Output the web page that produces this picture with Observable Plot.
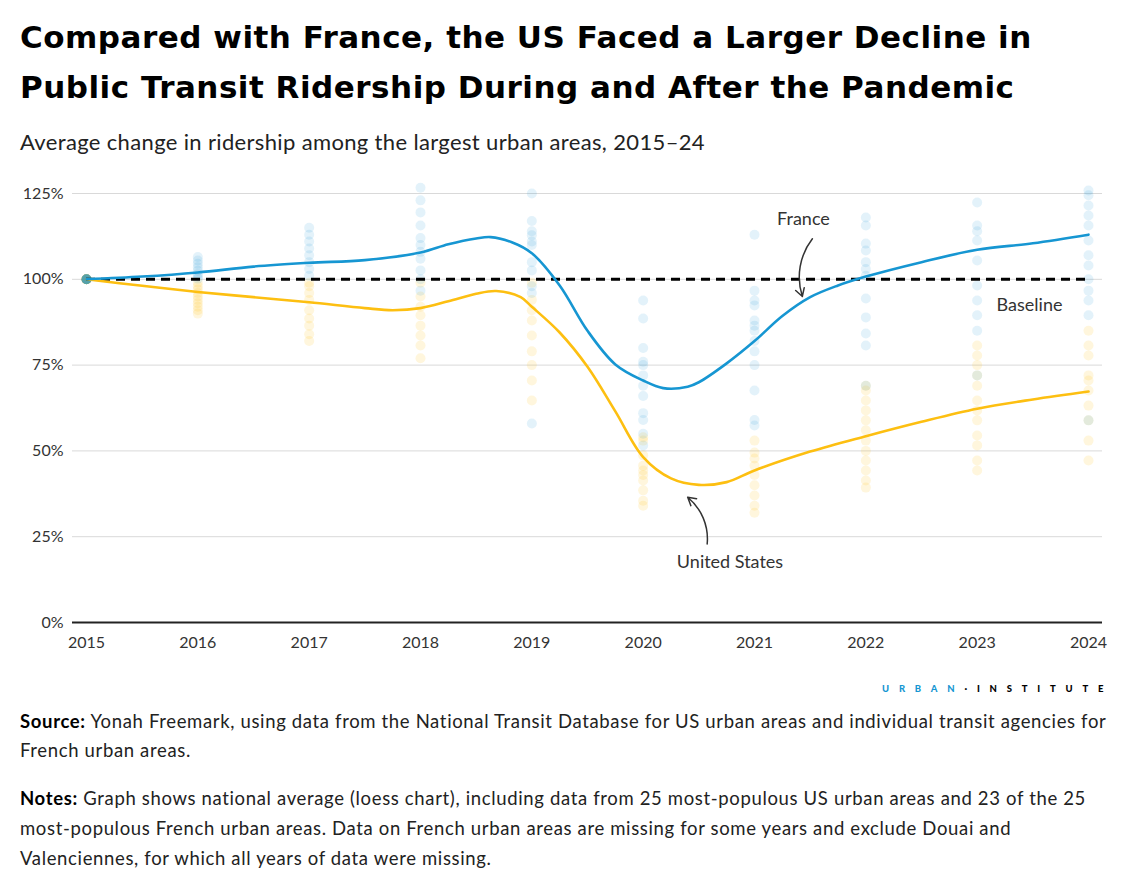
<!DOCTYPE html>
<html>
<head>
<meta charset="utf-8">
<script src="https://cdn.jsdelivr.net/npm/d3@7"></script>
<script src="https://cdn.jsdelivr.net/npm/@observablehq/plot@0.6"></script>
<style>
  html, body { margin: 0; padding: 0; background: #fff; }
  body { width: 1125px; height: 886px; position: relative; font-family: Lato, "Open Sans", sans-serif; color: #000; overflow: hidden; }
  .abs { position: absolute; left: 20px; white-space: nowrap; }
  #title { top: 12px; font-family: "DejaVu Sans", sans-serif; font-size: 31px; font-weight: 700; line-height: 50px; letter-spacing: 0.5px; color: #000; }
  #subtitle { top: 128px; font-size: 22px; letter-spacing: 0.35px; color: #222; }
  #chart { top: 170px; left: 0; }
  #logo { top: 683px; left: 882px; font-size: 9.5px; font-weight: 900; letter-spacing: 9.8px; color: #000; }
  #logo .u { color: #1696d2; }
  .note { font-size: 18.5px; line-height: 29px; letter-spacing: 0.65px; color: #222; }
  .note b { font-weight: 700; color: #000; }
  #source { top: 707px; }
  #notes { top: 783px; line-height: 30px; }
</style>
</head>
<body>
<div id="title" class="abs">Compared with France, the US Faced a Larger Decline in<br>Public Transit Ridership During and After the Pandemic</div>
<div id="subtitle" class="abs">Average change in ridership among the largest urban areas, 2015–24</div>
<div id="chart" class="abs"></div>
<div id="logo" class="abs"><span class="u">URBAN</span>·INSTITUTE</div>
<div id="source" class="abs note"><b>Source:</b> Yonah Freemark, using data from the National Transit Database for US urban areas and individual transit agencies for<br>French urban areas.</div>
<div id="notes" class="abs note"><b>Notes:</b> Graph shows national average (loess chart), including data from 25 most-populous US urban areas and 23 of the 25<br>most-populous French urban areas. Data on French urban areas are missing for some years and exclude Douai and<br>Valenciennes, for which all years of data were missing.</div>
<script>
// ---- Data ----
const years = [2015, 2016, 2017, 2018, 2019, 2020, 2021, 2022, 2023, 2024];
const yTicks = [0, 25, 50, 75, 100, 125];

// Smoothed national averages (loess curves)
const franceLineX = [2015, 2015.5, 2016, 2016.5, 2017, 2017.5, 2018, 2018.25, 2018.5, 2018.63, 2018.82, 2019, 2019.25, 2019.5, 2019.75, 2020, 2020.18, 2020.4, 2020.5, 2020.75, 2021, 2021.25, 2021.5, 2021.75, 2022, 2022.5, 2023, 2023.5, 2024];
const franceLineY = [100, 100.8, 102, 103.7, 104.8, 105.6, 107.8, 110.2, 111.9, 112.3, 110.8, 107.6, 98.2, 85, 75.2, 70.5, 68.3, 68.7, 70, 75.5, 82, 89.3, 94.8, 98.2, 100.8, 105, 108.6, 110.5, 113];
const usLineX = [2015, 2015.5, 2016, 2016.5, 2017, 2017.5, 2017.75, 2018, 2018.25, 2018.5, 2018.68, 2018.9, 2019, 2019.25, 2019.5, 2019.75, 2020, 2020.25, 2020.5, 2020.75, 2021, 2021.5, 2022, 2022.5, 2023, 2023.5, 2024];
const usLineY = [100, 98.1, 96.3, 94.8, 93.3, 91.6, 91.0, 91.6, 93.6, 95.8, 96.6, 94.8, 92, 84.5, 74.5, 61.5, 48.2, 42, 40.1, 40.9, 44.3, 49.8, 54.3, 58.5, 62.3, 65, 67.3];

// Individual urban areas (faint dots), per year
const franceDotValues = [
  [100, 100, 100, 100, 100, 100, 100, 100, 100, 100],
  [106.5, 105.5, 104.5, 103.5, 102.5, 101.5, 100.8, 100.2],
  [115, 113, 111, 109, 107, 105, 103, 101],
  [126.7, 123, 119.5, 115.7, 112, 110, 108, 106, 102.6, 100, 96.7],
  [125, 117, 114, 112.8, 111, 110, 105, 102.6, 98, 96, 58],
  [93.8, 88.6, 80, 76, 75, 72, 69, 66, 61, 59, 55, 51.6],
  [113, 96.7, 93.8, 92.4, 88, 86.5, 85, 82, 79, 75, 67.6, 59, 57.4],
  [118, 115.7, 110.4, 108.4, 105, 103, 101, 94.4, 88.9, 84.2, 80.7, 69],
  [122.4, 115.7, 114, 111.3, 105.5, 98.2, 93.8, 89.5, 85, 72],
  [125.9, 124.5, 121.5, 118.6, 115.7, 111.3, 107, 104, 100, 96.7, 93.8, 89.5, 58.9]
];
const usDotValues = [
  [100, 100, 100, 100, 100, 100, 100, 100, 100, 100],
  [99, 98, 97, 96, 95, 94, 93, 92, 91, 90],
  [99, 98, 96, 94, 91, 88.6, 86.5, 84, 82],
  [99, 95, 92, 89.5, 86.5, 83.6, 80.7, 77],
  [99, 94, 91, 88, 83.6, 79, 75, 70.5, 64.7],
  [54, 53, 48.7, 45.7, 44.3, 43, 41.4, 38.5, 35.5, 34],
  [53, 49.5, 47.8, 45.7, 43, 40, 37, 34, 32],
  [69, 67.6, 64.7, 61.8, 58.9, 56, 53, 50, 47.2, 44.3, 41.4, 39.3],
  [80.7, 77.8, 75, 72, 69, 64.7, 61.8, 58.9, 54.5, 51.6, 47.2, 44.3],
  [85, 80.7, 77.8, 72, 70.5, 67.6, 63.2, 58.9, 53, 47.2]
];

// Annotations
const labelTexts = ["France", "Baseline", "United States"];
const labelX = [2021.44, 2023.47, 2020.78];
const labelY = [117.4, 92.4, 17.5];
const arrowX1 = [2021.52, 2020.575];
const arrowY1 = [111.8, 22.9];
const arrowX2 = [2021.43, 2020.40];
const arrowY2 = [95, 36.5];

const BLUE = "#1696d2";
const YELLOW = "#fdbf11";

// ---- Build tables ----
const franceLine = franceLineX.map((x, i) => ({x, y: franceLineY[i]}));
const usLine = usLineX.map((x, i) => ({x, y: usLineY[i]}));
const frDots = years.flatMap((yr, i) => franceDotValues[i].map(v => ({x: yr, y: v})));
const usDots = years.flatMap((yr, i) => usDotValues[i].map(v => ({x: yr, y: v})));
const labels = labelTexts.map((t, i) => ({t, x: labelX[i], y: labelY[i]}));
const arrows = arrowX1.map((x1, i) => ({x1, y1: arrowY1[i], x2: arrowX2[i], y2: arrowY2[i]}));

const chart = Plot.plot({
  width: 1125,
  height: 487,
  marginLeft: 72,
  marginRight: 23,
  marginTop: 23,
  marginBottom: 35,
  style: {fontFamily: "Lato, sans-serif", fontSize: "16px", color: "#333", background: "#fff"},
  x: {domain: [2015, 2024], insetLeft: 14, insetRight: 14, label: null},
  y: {domain: [0, 125], label: null},
  marks: [
    Plot.gridY(yTicks.filter(d => d > 0), {stroke: "#d9d9d9", strokeOpacity: 1, strokeWidth: 1}),
    Plot.axisX({ticks: years, tickFormat: d => String(d), tickSize: 0, tickPadding: 14, fontSize: 16, fill: "#333", letterSpacing: "0.4px"}),
    Plot.axisY({ticks: yTicks, tickFormat: d => d + "%", tickSize: 0, tickPadding: 9, fontSize: 16, fill: "#333", letterSpacing: "0.3px"}),
    Plot.dot(usDots, {x: "x", y: "y", r: 5, fill: YELLOW, fillOpacity: 0.14}),
    Plot.dot(frDots, {x: "x", y: "y", r: 5, fill: BLUE, fillOpacity: 0.12}),
    Plot.ruleY([0], {stroke: "#222", strokeWidth: 2}),
    Plot.ruleY([100], {x1: 2015, x2: 2024, stroke: "#000", strokeWidth: 3, strokeDasharray: "9,6"}),
    Plot.line(usLine, {x: "x", y: "y", curve: "catmull-rom", stroke: YELLOW, strokeWidth: 2.6}),
    Plot.line(franceLine, {x: "x", y: "y", curve: "catmull-rom", stroke: BLUE, strokeWidth: 2.6}),
    Plot.arrow(arrows, {x1: "x1", y1: "y1", x2: "x2", y2: "y2", bend: -28, headLength: 9, stroke: "#333", strokeWidth: 1.5}),
    Plot.text(labels, {x: "x", y: "y", text: "t", fontSize: 18, fill: "#333", textAnchor: "middle", letterSpacing: "0.4px"})
  ]
});
document.getElementById("chart").appendChild(chart);
</script>
</body>
</html>
